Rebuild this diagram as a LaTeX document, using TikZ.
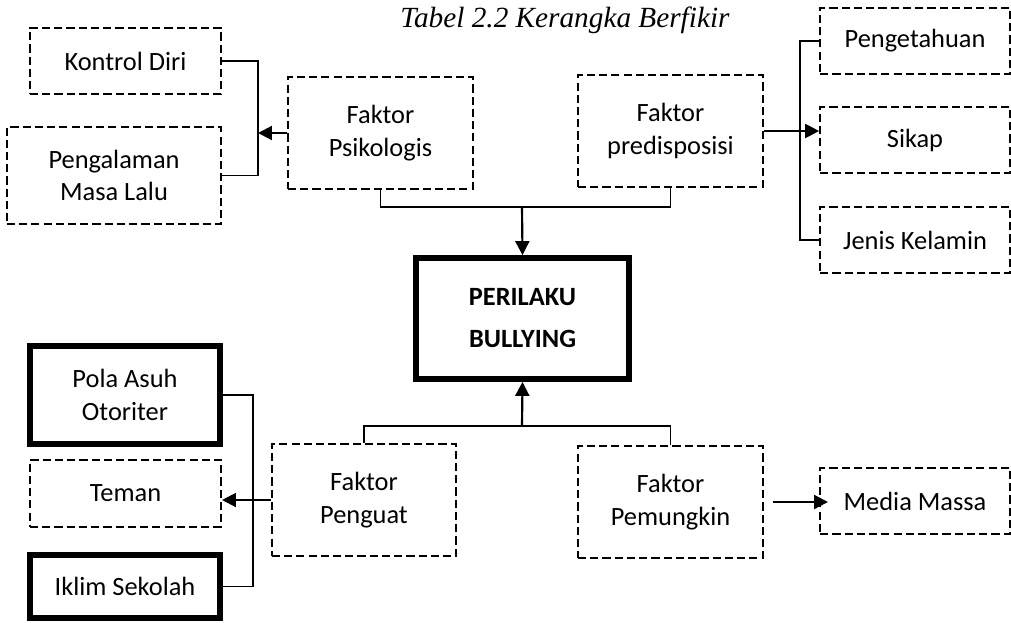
\documentclass[tikz,border=0pt]{standalone}
\usepackage{fontspec}
\setmainfont{Carlito}
\newfontfamily\titlefont{Liberation Serif}
\usetikzlibrary{arrows.meta,positioning}

\begin{document}
\begin{tikzpicture}[
  x=0.01465cm, y=-0.01465cm,
  font=\fontsize{11}{13.5}\selectfont,
  >={Triangle[length=5.8pt,width=5.8pt]},
  dbox/.style={rectangle, draw, line width=0.8pt, dash pattern=on 3.4pt off 1.7pt,
               align=center, inner sep=2pt},
  tbox/.style={rectangle, draw, line width=2.5pt, align=center, inner sep=2pt},
  ln/.style={line width=0.55pt},
  ar/.style={->, line width=0.9pt},
]
\useasboundingbox (0,0) rectangle (1011,622);

\node[font=\titlefont\itshape\fontsize{12.2}{14}\selectfont] (ttl) at (565,20) {Tabel 2.2 Kerangka Berfikir};

% upper half
\node[dbox, minimum width=2.80cm, minimum height=0.97cm] (kd)    at (125.5,61)  {Kontrol Diri};
\node[dbox, minimum width=3.14cm, minimum height=1.42cm] (pml)   at (114,175.5) {Pengalaman\\Masa Lalu};
\node[dbox, minimum width=2.71cm, minimum height=1.64cm] (psi)   at (380.5,133) {Faktor\\Psikologis};
\node[dbox, minimum width=2.71cm, minimum height=1.64cm] (pre)   at (670.5,131) {Faktor\\predisposisi};
\node[dbox, minimum width=2.78cm, minimum height=0.97cm] (tahu)  at (915,41)    {Pengetahuan};
\node[dbox, minimum width=2.78cm, minimum height=0.97cm] (sikap) at (915,140)   {Sikap};
\node[dbox, minimum width=2.78cm, minimum height=0.97cm] (jk)    at (915,240)   {Jenis Kelamin};

% centre
\node[tbox, minimum width=3.12cm, minimum height=1.77cm, font=\fontsize{11}{13.5}\selectfont\bfseries] (pb) at (522.5,318.5) {PERILAKU\\[4pt]BULLYING};

% lower half
\node[tbox, minimum width=2.78cm, minimum height=1.44cm] (pola)  at (125,395)   {Pola Asuh\\Otoriter};
\node[dbox, minimum width=2.80cm, minimum height=0.98cm] (tmn)   at (125.5,493.5) {Teman};
\node[tbox, minimum width=2.78cm, minimum height=0.92cm] (iklim) at (125,586.5) {Iklim Sekolah};
\node[dbox, minimum width=2.70cm, minimum height=1.64cm] (pgt)   at (364,500)   {Faktor\\Penguat};
\node[dbox, minimum width=2.71cm, minimum height=1.64cm] (pmk)   at (670.5,502) {Faktor\\Pemungkin};
\node[dbox, minimum width=2.78cm, minimum height=0.97cm] (media) at (915,501)   {Media Massa};

\coordinate (jt)  at (522,207);
\coordinate (jb)  at (522,426);
\coordinate (bl)  at (258,133);
\coordinate (br)  at (800,140);
\coordinate (bll) at (253,500);

\draw[ln] (psi.south) |- (jt) -| (pre.south);
\draw[ar] (jt) -- (pb.north);
\draw[ln] (pgt.north) |- (jb) -| (pmk.north);
\draw[ar] (jb) -- (pb.south);

\draw[ln] (kd.east) -| (bl) |- (pml.east);
\draw[ar] (psi.west) -- (psi.west -| bl);

\draw[ln] (tahu.west) -| (br) |- (jk.west);
\draw[ar] (pre.east) -- (pre.east -| sikap.west);

\draw[ln] (pola.east) -| (bll) |- (iklim.east);
\draw[ar] (pgt.west) -- (pgt.west -| tmn.east);

\draw[ar, shorten <=0.13cm, shorten >=-0.13cm] (pmk.east) -- (pmk.east -| media.west);

\end{tikzpicture}
\end{document}
